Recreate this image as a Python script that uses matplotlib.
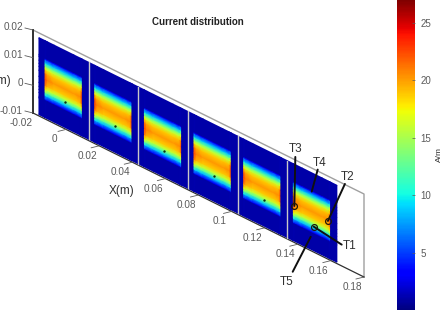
import numpy as np
import matplotlib
matplotlib.use('Agg')
import matplotlib.pyplot as plt
from matplotlib import cm, colors
from matplotlib.transforms import Affine2D

plt.rcParams['font.family'] = ['Liberation Sans', 'DejaVu Sans']

x_ticks = [-0.02, 0, 0.02, 0.04, 0.06, 0.08, 0.1, 0.12, 0.14, 0.16, 0.18]
x_labels = ['-0.02', '0', '0.02', '0.04', '0.06', '0.08', '0.1', '0.12', '0.14', '0.16', '0.18']
y_ticks = [-0.01, 0, 0.01, 0.02]
y_labels = ['-0.01', '0', '0.01', '0.02']
cbar_ticks = [5, 10, 15, 20, 25]

panel_starts = [-0.0164, 0.0136, 0.0436, 0.0736, 0.1036, 0.1336]
panel_width = 0.03
panel_bottom = -0.0095
panel_top = 0.0183

# current density across the panel height (bottom to top)
band_pos = [0, 0.225, 0.24, 0.29, 0.33, 0.37, 0.42, 0.5, 0.58, 0.63, 0.67, 0.71, 0.76, 0.775, 1]
band_vals = [1.0, 1.0, 3.5, 8.5, 12.5, 16, 18.8, 20.2, 18.8, 16, 12.5, 8.5, 3.5, 1.0, 1.0]
# along the panel width
gain_pos = [0, 0.115, 0.125, 0.17, 0.3, 0.7, 0.83, 0.85, 0.865, 0.875, 1]
gain_vals = [0, 0, 1.12, 1.04, 1.0, 1.0, 1.02, 1.08, 1.12, 0, 0]

dot_x = [-0.0007, 0.0293, 0.0593, 0.0893, 0.1193]
dot_y = [-0.0002, -0.0002, -0.0002, -0.0002, -0.0002]

# sensors: name, x, y on the panel, leader end and label position (pixels from the point)
sensor_names = ['T1', 'T2', 'T3', 'T4', 'T5']
sensor_x = [0.1496, 0.1582, 0.1379, 0.1484, 0.1478]
sensor_y = [-0.0008, 0.0038, 0.0032, 0.0115, -0.005]
sensor_ring = [True, True, True, False, False]
leader_dx = [28, 17, 1, 6, -18]
leader_dy = [18, -37, -49, -22, 35]
label_dx = [36, 20, 1, 8, -24]
label_dy = [19, -44, -57, -29, 45]

fig = plt.figure(figsize=(4.43, 3.10), dpi=100)
ax = fig.add_axes([0, 0, 1, 1])
ax.set_xlim(0, 443)
ax.set_ylim(310, 0)
ax.axis('off')

# oblique view of the x-y plane, in pixels
view = Affine2D(np.array([[1655, 0, 33 + 0.02 * 1655],
                          [820, -2767, 113 + 0.02 * 820 - 0.01 * 2767],
                          [0, 0, 1]]))
tr = view + ax.transData
norm = colors.Normalize(0, 27)

grey = '#5a5a5a'

for start in panel_starts:
    xs = start + np.array(gain_pos) * panel_width
    ys = panel_bottom + np.array(band_pos) * (panel_top - panel_bottom)
    vals = np.maximum(np.outer(band_vals, gain_vals), 1.0)
    ax.pcolormesh(xs, ys, vals, shading='gouraud', cmap='jet', norm=norm, transform=tr, zorder=2)

# separators between the panels
for start in panel_starts[1:]:
    ax.plot([start, start], [panel_bottom, panel_top], color='#c8c8c8', lw=1.0, transform=tr, zorder=3)

# box
ax.plot([-0.02, 0.18, 0.18], [0.02, 0.02, -0.01], color='#a0a0a0', lw=1.0, transform=tr, zorder=1)
ax.plot([-0.02, 0.18], [-0.01, -0.01], color='#303030', lw=0.9, transform=tr, zorder=1)
ax.plot([-0.02, -0.02], [-0.01, 0.02], color='#202020', lw=1.3, transform=tr, zorder=1)

pts = ax.transData.inverted().transform(tr.transform(np.column_stack([x_ticks, [-0.01] * len(x_ticks)])))
for (px, py), lab in zip(pts, x_labels):
    if lab != '-0.02':
        ax.plot([px - 8, px], [py + 2, py], color=grey, lw=0.6, zorder=1)
    ax.text(px - 12, py + 10, lab, fontsize=7.2, color=grey, ha='center', va='center')

pts = ax.transData.inverted().transform(tr.transform(np.column_stack([[-0.02] * len(y_ticks), y_ticks])))
for (px, py), lab in zip(pts, y_labels):
    ax.plot([px - 8, px], [py - 2, py], color=grey, lw=0.6, zorder=1)
    ax.text(px - 10, py - 2.5, lab, fontsize=7.2, color=grey, ha='right', va='center')

ax.scatter(dot_x, dot_y, s=3, color='#103010', transform=tr, zorder=4, linewidths=0)

pts = ax.transData.inverted().transform(tr.transform(np.column_stack([sensor_x, sensor_y])))
for i, name in enumerate(sensor_names):
    px, py = pts[i]
    ax.plot([px, px + leader_dx[i]], [py, py + leader_dy[i]], color='#101010', lw=1.4, zorder=5,
            solid_capstyle='round')
    if sensor_ring[i]:
        ax.plot(px, py, 'o', ms=4.2, mfc='none', mec='#201808', mew=0.9, zorder=6)
    ax.text(px + label_dx[i], py + label_dy[i], name, fontsize=8.5, color='#303030',
            ha='center', va='center', zorder=6)

ax.text(198, 22, 'Current distribution', fontsize=7, fontweight='bold', color='#222222', ha='center', va='center')
ax.text(122, 191, 'X(m)', fontsize=8.5, color='#303030', ha='center', va='center')
ax.text(11, 81, 'Y(m)', fontsize=8.5, color='#303030', ha='right', va='center')

# colorbar runs the full height of the picture
cax = fig.add_axes([397 / 443, 0, 18 / 443, 1])
cbar = fig.colorbar(cm.ScalarMappable(norm=norm, cmap='jet'), cax=cax)
cbar.set_ticks(cbar_ticks)
cbar.ax.tick_params(labelsize=7, labelcolor=grey, color=grey, length=2, width=0.5, direction='in', pad=4)
cbar.outline.set_visible(False)
ax.text(439, 155, 'A/m', fontsize=6, color='#303030', rotation=90, ha='center', va='center')

fig.savefig('out.png', dpi=100)
